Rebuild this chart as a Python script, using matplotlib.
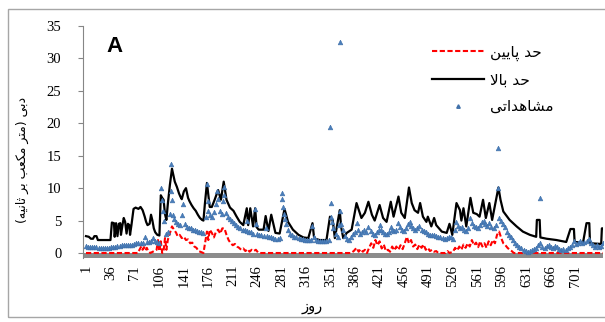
import matplotlib
matplotlib.use("Agg")
import matplotlib.pyplot as plt
from matplotlib.lines import Line2D
from matplotlib.patches import Rectangle

# ---------------- data ----------------
x_ticks = [1, 36, 71, 106, 141, 176, 211, 246, 281, 316, 351, 386, 421, 456, 491,
           526, 561, 596, 631, 666, 701]
y_ticks = [0, 5, 10, 15, 20, 25, 30, 35]

upper_days = [1, 5, 8, 11, 13, 16, 18, 36, 38, 41, 42, 44, 46, 48, 50, 51, 53, 55, 57, 59,
              61, 63, 64, 66, 69, 72, 76, 79, 82, 85, 87, 89, 92, 94, 96, 98, 100, 103, 106,
              108, 110, 112, 114, 116, 118, 121, 124, 126, 128, 131, 134, 136, 138, 141, 144,
              147, 149, 152, 155, 158, 161, 164, 167, 169, 171, 174, 176, 178, 181, 185, 190,
              194, 198, 202, 207, 212, 216, 221, 226, 231, 233, 236, 240, 243, 245, 248, 255,
              258, 262, 266, 272, 278, 285, 290, 297, 305, 312, 319, 325, 327, 329, 335, 345,
              350, 354, 357, 364, 366, 369, 374, 381, 388, 395, 400, 405, 410, 414, 421, 426,
              431, 437, 441, 448, 452, 457, 463, 467, 471, 476, 479, 483, 488, 490, 495, 499,
              502, 510, 517, 521, 525, 531, 536, 538, 541, 545, 551, 555, 560, 564, 569, 573,
              578, 582, 591, 594, 598, 607, 617, 626, 636, 645, 646, 650, 651, 660, 674, 688,
              694, 699, 700, 712, 717, 721, 722, 738, 739, 741]
upper_vals = [2.6, 2.5, 2.2, 2.2, 2.6, 2.6, 2.0, 2.0, 4.7, 4.6, 2.5, 4.6, 2.6, 4.5, 4.6, 2.8,
              4.2, 5.4, 4.8, 3.0, 4.5, 4.3, 2.8, 4.3, 6.8, 7.0, 6.8, 7.1, 6.6, 5.6, 4.8, 4.3,
              4.5, 5.9, 5.0, 3.8, 3.2, 2.8, 2.7, 8.9, 8.5, 8.2, 6.0, 5.1, 7.5, 10.5, 13.0, 12.0,
              11.0, 10.2, 9.2, 8.7, 8.3, 9.5, 10.0, 8.5, 8.0, 7.4, 6.9, 6.5, 5.9, 5.4, 5.1, 5.0,
              7.5, 10.8, 9.0, 7.1, 7.1, 8.2, 9.7, 8.2, 11.0, 8.2, 7.0, 6.5, 5.7, 4.8, 4.3, 6.9,
              4.3, 6.9, 4.1, 6.9, 4.0, 3.6, 3.6, 5.7, 3.4, 5.9, 3.1, 3.0, 6.8, 4.8, 3.6, 2.8,
              2.4, 2.3, 4.6, 2.6, 2.2, 2.0, 2.0, 5.6, 5.0, 2.3, 6.6, 4.0, 2.3, 3.1, 3.6, 7.7,
              5.4, 6.2, 7.9, 5.9, 5.0, 7.4, 5.4, 4.8, 7.9, 5.6, 8.7, 6.2, 5.4, 10.1, 7.7, 6.6,
              6.2, 7.7, 5.6, 4.8, 5.6, 4.1, 5.4, 4.3, 3.3, 3.1, 4.5, 2.8, 7.7, 6.6, 5.0, 6.9,
              4.1, 8.5, 6.2, 6.0, 5.6, 8.2, 5.4, 7.7, 5.1, 10.1, 8.2, 6.4, 5.1, 4.1, 3.3, 2.8,
              2.5, 5.1, 5.1, 2.4, 2.2, 2.0, 1.7, 3.7, 3.7, 1.7, 1.6, 4.6, 4.6, 1.5, 1.4, 3.8,
              3.8]

lower_days = [1, 75, 78, 80, 82, 84, 86, 88, 90, 93, 102, 104, 106, 108, 110, 112, 114, 116,
              118, 124, 127, 130, 132, 135, 138, 141, 144, 147, 150, 153, 156, 159, 162, 169,
              174, 176, 178, 181, 184, 187, 190, 193, 196, 199, 202, 205, 208, 211, 214, 217,
              220, 223, 226, 229, 232, 235, 238, 241, 244, 247, 250, 380, 384, 388, 391, 394,
              397, 400, 403, 406, 409, 412, 415, 418, 421, 424, 427, 430, 433, 436, 439, 442,
              445, 448, 451, 454, 457, 460, 463, 466, 469, 472, 475, 478, 481, 484, 487, 490,
              493, 496, 499, 502, 505, 515, 518, 521, 526, 529, 532, 535, 538, 541, 544, 547,
              550, 553, 556, 559, 562, 565, 568, 571, 574, 577, 580, 583, 586, 589, 592, 595,
              598, 601, 604, 607, 610, 613, 741]
lower_vals = [0, 0, 0.6, 1.0, 0.5, 0.9, 0.4, 0.8, 0.3, 0.0, 0.5, 2.0, 0.3, 1.8, 0.0, 0.3, 2.3,
              0.5, 2.0, 4.1, 3.6, 3.1, 2.6, 2.8, 2.3, 2.5, 2.0, 2.1, 1.5, 1.6, 1.0, 0.8, 0.3,
              0.0, 3.3, 2.0, 3.6, 3.1, 2.4, 3.3, 3.6, 3.0, 3.8, 3.8, 2.8, 2.0, 1.5, 1.2, 1.4,
              1.0, 0.8, 0.5, 0.7, 0.3, 0.6, 0.2, 0.5, 0.3, 0.5, 0.1, 0, 0, 0.3, 0.8, 0.2, 0.6,
              0.2, 0.5, 0.0, 0.8, 1.5, 0.8, 2.0, 1.2, 1.8, 0.7, 1.3, 0.3, 0.5, 0.2, 1.0, 0.4,
              1.0, 0.5, 1.2, 0.6, 1.5, 2.5, 1.5, 2.0, 1.0, 1.3, 0.6, 1.3, 0.8, 1.3, 0.5, 0.8,
              0.3, 0.5, 0.2, 0.3, 0, 0, 0.3, 0, 0.2, 0.8, 0.4, 1.0, 0.5, 1.3, 0.8, 1.5, 1.0,
              2.0, 1.2, 1.6, 0.9, 1.8, 1.0, 1.5, 0.8, 1.8, 1.2, 2.0, 1.5, 2.8, 3.3, 2.3, 1.5,
              1.2, 0.8, 0.5, 0.3, 0, 0]

obs_days = [1, 4, 7, 10, 13, 16, 19, 22, 25, 28, 31, 34, 37, 40, 43, 46, 49, 52, 55, 58,
            61, 64, 67, 70, 73, 76, 79, 82, 85, 88, 91, 94, 97, 100, 103, 106, 109, 110, 111,
            112, 115, 118, 121, 122, 123, 124, 125, 127, 130, 133, 136, 139, 140, 142, 145,
            148, 151, 154, 157, 160, 163, 166, 169, 172, 174, 175, 176, 178, 181, 184, 187,
            189, 190, 192, 195, 197, 198, 199, 201, 204, 207, 210, 213, 216, 219, 222, 225,
            228, 231, 232, 234, 237, 240, 243, 244, 246, 249, 252, 255, 258, 260, 263, 266,
            269, 272, 275, 278, 281, 282, 283, 284, 285, 287, 290, 293, 296, 299, 302, 305,
            308, 311, 314, 317, 320, 323, 325, 327, 330, 333, 336, 339, 342, 345, 348, 350,
            351, 352, 353, 355, 358, 361, 363, 364, 365, 366, 368, 371, 374, 377, 380, 383,
            386, 388, 390, 393, 396, 399, 402, 405, 408, 411, 414, 417, 420, 421, 423, 426,
            429, 432, 435, 437, 439, 442, 445, 448, 450, 453, 456, 459, 462, 464, 466, 469,
            472, 475, 478, 481, 484, 487, 490, 493, 496, 499, 502, 505, 508, 511, 514, 517,
            520, 523, 526, 529, 531, 533, 536, 539, 542, 545, 548, 551, 553, 556, 559, 562,
            565, 568, 570, 572, 575, 578, 581, 584, 587, 590, 591, 592, 594, 597, 600, 603,
            606, 609, 612, 615, 618, 621, 624, 627, 630, 633, 636, 639, 642, 645, 648, 650,
            651, 654, 657, 660, 663, 666, 669, 672, 675, 678, 681, 684, 687, 690, 693, 696,
            699, 702, 705, 708, 711, 714, 717, 720, 723, 726, 729, 732, 735, 738, 741]
obs_vals = [1.1, 1.0, 0.9, 0.9, 1.0, 0.9, 0.8, 0.8, 0.8, 0.8, 0.8, 0.8, 0.9, 1.0, 1.0, 1.1,
            1.1, 1.2, 1.2, 1.2, 1.3, 1.3, 1.3, 1.4, 1.5, 1.5, 1.6, 1.6, 2.4, 1.7, 1.7, 1.8,
            2.3, 1.8, 1.7, 1.6, 10.0, 8.2, 6.5, 5.0, 3.0, 3.3, 6.0, 13.7, 9.5, 8.2, 5.8, 5.3,
            4.8, 4.5, 4.3, 5.8, 7.5, 4.5, 4.0, 3.8, 3.8, 3.6, 3.5, 3.4, 3.3, 3.2, 3.1, 5.5,
            10.6, 8.0, 6.5, 5.8, 5.5, 6.3, 7.5, 9.5, 8.3, 6.5, 6.0, 8.0, 10.2, 9.0, 6.2, 5.5,
            5.2, 4.9, 4.6, 4.3, 4.0, 3.8, 3.6, 3.5, 3.4, 5.0, 3.3, 3.2, 3.0, 6.8, 4.5, 3.0,
            2.8, 2.7, 2.6, 3.8, 2.6, 2.5, 2.4, 2.3, 2.2, 2.2, 2.3, 9.2, 8.4, 7.1, 6.0, 5.3,
            4.5, 3.5, 3.0, 2.7, 2.5, 2.4, 2.3, 2.2, 2.1, 2.0, 2.0, 2.0, 2.0, 4.1, 2.5, 2.0,
            1.9, 1.9, 1.8, 1.8, 1.8, 2.0, 19.4, 7.7, 5.6, 4.8, 3.8, 3.0, 2.5, 4.3, 32.5, 6.4,
            4.5, 3.5, 2.6, 2.2, 2.0, 2.4, 3.0, 3.3, 4.6, 3.5, 3.0, 3.2, 3.5, 3.3, 4.0, 3.4,
            3.0, 2.8, 3.2, 3.6, 4.3, 3.5, 3.3, 3.0, 2.9, 3.3, 4.0, 3.6, 3.4, 3.6, 4.6, 4.0,
            3.6, 3.4, 3.8, 4.5, 4.8, 4.2, 3.9, 3.6, 3.8, 4.2, 3.6, 3.4, 3.2, 3.0, 2.8, 2.7,
            2.8, 2.6, 2.5, 2.4, 2.3, 2.2, 2.3, 2.5, 2.4, 2.2, 3.5, 4.8, 4.2, 3.8, 4.0, 3.6,
            3.4, 3.8, 5.4, 4.6, 4.2, 4.0, 3.8, 4.3, 4.8, 5.0, 4.4, 4.2, 4.6, 4.0, 3.8, 4.3,
            10.0, 16.2, 5.4, 5.0, 4.5, 4.0, 3.3, 2.8, 2.4, 2.0, 1.6, 1.3, 1.0, 0.7, 0.5, 0.3,
            0.2, 0.3, 0.5, 0.6, 0.8, 1.3, 8.5, 1.5, 1.0, 0.8, 1.1, 1.3, 0.9, 0.7, 1.1, 1.0,
            0.6, 0.4, 0.6, 0.5, 0.7, 0.9, 1.2, 1.8, 1.4, 1.6, 1.8, 1.5, 1.7, 1.9, 2.2, 1.6,
            1.3, 1.0, 1.2, 0.9, 1.1, 1.6]

# Persian labels (presentation forms, visual order)
lower_label = "\uFEE6\uFBFF\uFBFE\uFE8E\uFB58 \uFEAA\uFEA3"          # حد پایین
upper_label = "\uFEFB\uFE8E\uFE91 \uFEAA\uFEA3"                      # حد بالا
obs_label = "\uFBFD\uFE97\uFE8D\uFEAA\uFEEB\uFE8E\uFEB8\uFEE3"        # مشاهداتی
x_title = "\uFEAF\uFEED\uFEAD"                                        # روز
y_title = ("(" + "\uFEEA\uFBFF\uFEE7\uFE8E\uFE9B" + " " + "\uFEAE\uFE91" + " "
           + "\uFE90\uFECC\uFB91\uFEE3" + " " + "\uFEAE\uFE98\uFEE3" + ") "
           + "\uFBFD\uFE91\uFEA9")                                    # دبی (متر مکعب بر ثانیه)
panel_letter = "A"

# ---------------- figure ----------------
W, H = 605, 322
fig = plt.figure(figsize=(W / 100, H / 100), dpi=100)
fig.patch.set_facecolor("white")

fig.add_artist(Rectangle((8 / W, 1 - 317 / H), 0.99, (317 - 9) / H,
                         transform=fig.transFigure, fill=False,
                         edgecolor="#a6a6a6", linewidth=1.0))

ax = fig.add_axes([83 / W, 1 - 258 / H, (603 - 83) / W, (258 - 26) / H])
ax.axhspan(-0.77, 0, color="#8c8c8c", zorder=1, lw=0)

ax.plot(lower_days, lower_vals, color="#ff0000", lw=1.5, ls=(0, (2.5, 1.2)), zorder=3)
ax.plot(upper_days, upper_vals, color="#000000", lw=1.6, zorder=4)
ax.plot(obs_days, obs_vals, ls="none", marker="^", ms=3.4, color="#4a7ebb",
        mec="#3f6fa8", mew=0.4, zorder=5)

ax.set_xlim(-3.3, 740.6)
ax.set_ylim(-0.77, 35)

for s in ["top", "right", "bottom"]:
    ax.spines[s].set_visible(False)
ax.spines["left"].set_color("#868686")
ax.spines["left"].set_linewidth(0.8)

ax.set_yticks(y_ticks)
ax.set_yticklabels([str(v) for v in y_ticks], family="Liberation Serif", fontsize=10.5)
ax.tick_params(axis="y", direction="out", length=3.6, color="#868686", pad=12)
ax.set_xticks(x_ticks)
ax.set_xticklabels([str(v) for v in x_ticks], family="Liberation Serif", fontsize=10.5,
                   rotation=90)
ax.tick_params(axis="x", length=0, pad=5)

fig.text(312 / W, 1 - 306 / H, x_title, ha="center", va="center", fontsize=10.5,
         family=["DejaVu Sans"])
fig.text(22 / W, 1 - 160 / H, y_title, ha="center", va="center", rotation=90,
         fontsize=9, family=["DejaVu Sans"])
fig.text(106 / W, 1 - 46 / H, panel_letter, ha="left", va="center", fontsize=16,
         fontweight="bold", family="Liberation Sans")

handles = [Line2D([], [], color="#ff0000", lw=1.5, ls=(0, (2.5, 1.2))),
           Line2D([], [], color="#000000", lw=1.6),
           Line2D([], [], ls="none", marker="^", ms=2.5, color="#4a7ebb", mec="#3f6fa8")]
fig.legend(handles, [lower_label, upper_label, obs_label], loc="upper left",
           bbox_to_anchor=(418 / W, 1 - 31 / H), frameon=False,
           prop={"family": "DejaVu Sans", "size": 11}, handlelength=3.4,
           labelspacing=0.75, handletextpad=0.4)

fig.savefig("out.png", dpi=100)
